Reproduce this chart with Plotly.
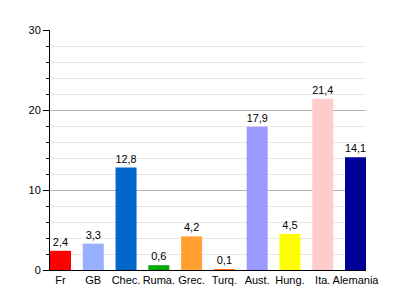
import plotly.graph_objects as go

categories = ["Fr", "GB", "Chec.", "Ruma.", "Grec.", "Turq.", "Aust.", "Hung.", "Ita.", "Alemania"]
values = [2.4, 3.3, 12.8, 0.6, 4.2, 0.1, 17.9, 4.5, 21.4, 14.1]
colors = ["#ff0000", "#99b0ff", "#0066cc", "#00aa00", "#ffa030", "#ff6600",
          "#9999ff", "#ffff00", "#ffcccc", "#000099"]
labels = [f"{v:.1f}".replace(".", ",") for v in values]

fig = go.Figure(go.Bar(
    x=categories, y=values, marker=dict(color=colors, line=dict(width=0)),
    text=labels, textposition="outside", cliponaxis=False,
    textfont=dict(family="Liberation Sans, Arial", size=11, color="#000000"),
))

fig.update_layout(
    width=395, height=300,
    margin=dict(l=50, r=29, t=30, b=30, autoexpand=False),
    paper_bgcolor="white", plot_bgcolor="white",
    bargap=0.36, showlegend=False,
    font=dict(family="Liberation Sans, Arial", size=11, color="#000000"),
    xaxis=dict(showline=True, linecolor="#000000", linewidth=1, ticks="",
               tickangle=0, automargin=False, range=[-0.32, 9.32],
               tickfont=dict(size=11), showgrid=False),
    yaxis=dict(range=[0, 30], dtick=10, showline=True, linecolor="#000000", linewidth=1,
               ticks="outside", ticklen=6, tickcolor="#000000", tickwidth=1,
               showgrid=True, gridcolor="#b4b4b4", gridwidth=1, zeroline=False,
               tickfont=dict(size=11), automargin=False,
               minor=dict(dtick=2, ticks="outside", ticklen=3, tickcolor="#000000",
                          showgrid=True, gridcolor="#e6e6e6", gridwidth=1)),
)

fig.write_html("out.html")
